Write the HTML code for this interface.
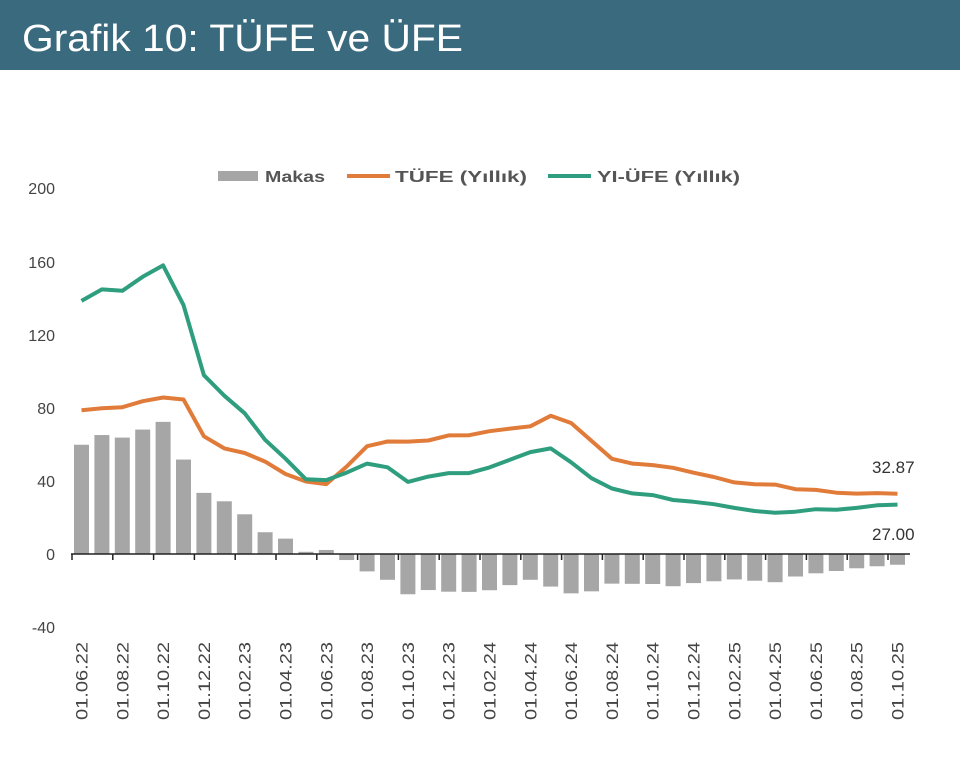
<!DOCTYPE html>
<html><head><meta charset="utf-8"><style>
body{margin:0;background:#fff;width:960px;height:759px;overflow:hidden}
</style></head><body>
<svg id="s" width="960" height="759" xmlns="http://www.w3.org/2000/svg" font-family="Liberation Sans, sans-serif">
<rect x="0" y="0" width="960" height="70" fill="#3a6a7e"/>
<text x="22" y="51" font-size="38" fill="#fff" textLength="441" lengthAdjust="spacingAndGlyphs">Grafik 10: TÜFE ve ÜFE</text>
<g font-size="16" fill="#444" text-anchor="end">
<text x="55" y="194">200</text><text x="55" y="268">160</text><text x="55" y="341">120</text>
<text x="55" y="414">80</text><text x="55" y="487">40</text><text x="55" y="560">0</text><text x="55" y="633">-40</text>
</g>
<rect x="218" y="171" width="40" height="10" fill="#a6a6a6"/>
<text x="265" y="182" font-size="16" font-weight="bold" fill="#555" textLength="60" lengthAdjust="spacingAndGlyphs">Makas</text>
<line x1="347" y1="176" x2="390" y2="176" stroke="#e07b39" stroke-width="4"/>
<text x="395" y="182" font-size="16" font-weight="bold" fill="#555" textLength="132" lengthAdjust="spacingAndGlyphs">TÜFE (Yıllık)</text>
<line x1="548" y1="176" x2="591" y2="176" stroke="#2e9e7e" stroke-width="4"/>
<text x="597" y="182" font-size="16" font-weight="bold" fill="#555" textLength="143" lengthAdjust="spacingAndGlyphs">YI-ÜFE (Yıllık)</text>
<g id="g"></g>
<text x="872" y="473" font-size="17" fill="#333">32.87</text>
<text x="872" y="540" font-size="17" fill="#333">27.00</text>
</svg>
<script>
var t=[78.6,79.6,80.2,83.5,85.5,84.4,64.3,57.7,55.2,50.5,43.7,39.6,38.2,47.8,58.9,61.5,61.4,62.0,64.8,64.9,67.1,68.5,69.8,75.5,71.6,61.8,52.0,49.4,48.6,47.1,44.4,42.1,39.1,38.1,37.9,35.4,35.05,33.5,33.0,33.3,32.87];
var u=[138.3,144.6,143.8,151.5,157.7,136.0,97.7,86.5,76.9,62.4,52.1,40.8,40.4,44.5,49.4,47.4,39.4,42.3,44.2,44.2,47.3,51.5,55.7,57.7,50.1,41.4,35.8,33.1,32.2,29.5,28.5,27.2,25.2,23.5,22.5,23.1,24.5,24.2,25.2,26.6,27.0];
var Y=function(v){return 554-1.83*v},X=function(i){return 81.5+20.4*i};
var h='',lab=['06.22','08.22','10.22','12.22','02.23','04.23','06.23','08.23','10.23','12.23','02.24','04.24','06.24','08.24','10.24','12.24','02.25','04.25','06.25','08.25','10.25'];
for(var i=0;i<41;i++){var m=u[i]-t[i],y0=Y(Math.max(m,0)),hh=Math.abs(m)*1.83;
h+='<rect x="'+(X(i)-7.5)+'" y="'+y0+'" width="15" height="'+hh+'" fill="#a6a6a6"/>';}
h+='<line x1="71" y1="554" x2="910" y2="554" stroke="#222" stroke-width="1.5"/>';
for(var k=0;k<=20;k++){var x=72+40.8*k;h+='<line x1="'+x+'" y1="554" x2="'+x+'" y2="560" stroke="#222" stroke-width="1.5"/>';}
for(var k=0;k<21;k++){var x=X(2*k)+6;h+='<text transform="translate('+x+',642) rotate(-90)" text-anchor="end" font-size="17" fill="#444" textLength="78" lengthAdjust="spacingAndGlyphs">01.'+lab[k]+'</text>';}
function pl(a,c){var p=a.map(function(v,i){return X(i).toFixed(1)+','+Y(v).toFixed(1)}).join(' ');return '<polyline points="'+p+'" fill="none" stroke="'+c+'" stroke-width="4" stroke-linejoin="round"/>';}
h+=pl(t,'#e07b39')+pl(u,'#2e9e7e');
document.getElementById('g').innerHTML=h;
</script>
</body></html>
